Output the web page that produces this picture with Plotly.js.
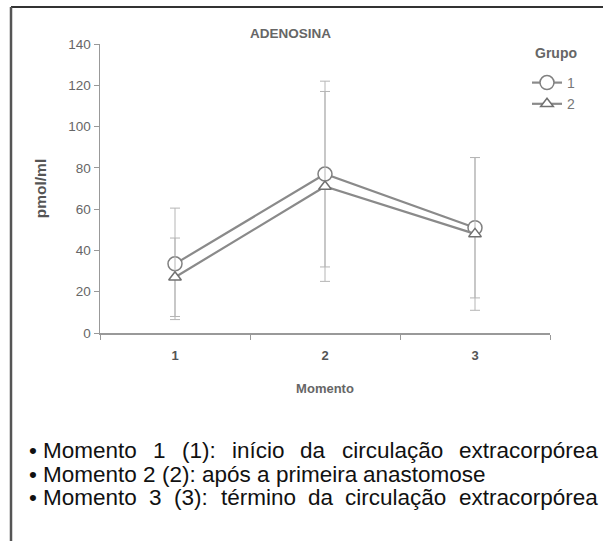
<!DOCTYPE html>
<html>
<head>
<meta charset="utf-8">
<script src="https://cdn.plot.ly/plotly-3.0.1.min.js"></script>
<style>
html,body{margin:0;padding:0;background:#fff;}
#chart{width:603px;height:541px;}
</style>
</head>
<body>
<div id="chart"></div>
<script>
var momento = [1, 2, 3];
var tickLabels = ['1', '2', '3'];
var grupo1 = [33.5, 77, 51];
var grupo1Err = [27, 45, 34];
var grupo2 = [27, 71, 48];
var grupo2Err = [19, 46, 37];
var yTicks = [0, 20, 40, 60, 80, 100, 120, 140];
var notes = [
  '• Momento 1 (1): início da circulação extracorpórea',
  '• Momento 2 (2): após a primeira anastomose',
  '• Momento 3 (3): término da circulação extracorpórea'
];

var F = 'Liberation Sans, Arial, sans-serif';

var traces = [
  {
    x: momento, y: grupo1, name: '1', type: 'scatter', mode: 'lines+markers',
    line: {color: '#8a8a8a', width: 2.2},
    marker: {symbol: 'circle', size: 14, color: '#ffffff', line: {color: '#808080', width: 1.5}},
    error_y: {type: 'data', array: grupo1Err, visible: true, color: '#b5b5b5', thickness: 1, width: 5}
  },
  {
    x: momento, y: grupo2, name: '2', type: 'scatter', mode: 'lines+markers',
    line: {color: '#8a8a8a', width: 2.2},
    marker: {symbol: 'triangle-up', size: 11, color: '#ffffff', line: {color: '#707070', width: 1.5}},
    error_y: {type: 'data', array: grupo2Err, visible: true, color: '#b5b5b5', thickness: 1, width: 5}
  }
];

// page-pixel helpers (plot area: x 100..550, y 44..333)
function px(x) { return (x - 100) / 450; }
function py(y) { return (333 - y) / 289; }

var annotations = [
  {text: '<b>ADENOSINA</b>', xref: 'paper', yref: 'paper', x: px(290), y: py(33),
   xanchor: 'center', yanchor: 'middle', showarrow: false, font: {family: F, size: 13.5, color: '#666'}},
  {text: '<b>Grupo</b>', xref: 'paper', yref: 'paper', x: px(533), y: py(53),
   xanchor: 'left', yanchor: 'middle', showarrow: false, font: {family: F, size: 14, color: '#666'}}
];

// note lines: lines 1 and 3 justified to the right edge, line 2 left as is
var noteSize = 22.5;
var lineY = [450, 474, 497];
var lineStart = 28;
var justify = [true, false, true];
var lineEnd = 597;
var ctx = document.createElement('canvas').getContext('2d');
ctx.font = noteSize + 'px "Liberation Sans"';
var spaceW = ctx.measureText(' ').width;
for (var i = 0; i < notes.length; i++) {
  var words = notes[i].split(' ');
  var bullet = words.shift();
  var bulletW = ctx.measureText(bullet).width;
  annotations.push({text: bullet, xref: 'paper', yref: 'paper', x: px(lineStart), y: py(lineY[i]),
    xanchor: 'left', yanchor: 'middle', showarrow: false, borderpad: 0,
    font: {family: F, size: noteSize, color: '#111'}});
  var start = lineStart + bulletW + spaceW;
  var widths = words.map(function (w) { return ctx.measureText(w).width; });
  var total = widths.reduce(function (a, b) { return a + b; }, 0);
  var gap = justify[i] ? (lineEnd - start - total) / (words.length - 1) : spaceW;
  var cx = start;
  for (var j = 0; j < words.length; j++) {
    annotations.push({text: words[j], xref: 'paper', yref: 'paper', x: px(cx), y: py(lineY[i]),
      xanchor: 'left', yanchor: 'middle', showarrow: false, borderpad: 0,
      font: {family: F, size: noteSize, color: '#111'}});
    cx += widths[j] + gap;
  }
}

var layout = {
  width: 603, height: 541,
  margin: {l: 100, r: 53, t: 44, b: 208},
  paper_bgcolor: '#fff', plot_bgcolor: '#fff',
  showlegend: true,
  legend: {
    x: px(527), y: py(67), xanchor: 'left', yanchor: 'top',
    font: {family: F, size: 14, color: '#777'},
    bgcolor: 'rgba(0,0,0,0)', tracegroupgap: 0
  },
  xaxis: {
    range: [0.5, 3.5], tickmode: 'array', tickvals: momento, ticktext: tickLabels,
    ticks: '', showgrid: false, zeroline: false, showline: true, linecolor: '#999', linewidth: 1.5,
    tickfont: {family: F, size: 13, color: '#555', weight: 'bold'},
    ticklabelstandoff: 10,
    minor: {tickmode: 'array', tickvals: [0.5, 1.5, 2.5, 3.5], ticks: 'outside', ticklen: 5, tickcolor: '#999', showgrid: false},
    title: {text: '<b>Momento</b>', font: {family: F, size: 13, color: '#666'}, standoff: 22},
    fixedrange: true
  },
  yaxis: {
    range: [0, 140], tickmode: 'array', tickvals: yTicks,
    ticks: 'outside', ticklen: 5, tickcolor: '#999', showgrid: false, zeroline: false,
    showline: true, linecolor: '#999', linewidth: 1.5,
    tickfont: {family: F, size: 13.5, color: '#666'},
    title: {text: '<b>pmol/ml</b>', font: {family: F, size: 15.5, color: '#555'}, standoff: 18},
    fixedrange: true
  },
  annotations: annotations,
  shapes: [
    {type: 'line', xref: 'paper', yref: 'paper', x0: px(11), x1: px(603), y0: py(7), y1: py(7), line: {color: '#333', width: 2}},
    {type: 'line', xref: 'paper', yref: 'paper', x0: px(11), x1: px(11), y0: py(7), y1: py(541), line: {color: '#555', width: 2.5}}
  ]
};

Plotly.newPlot('chart', traces, layout, {displayModeBar: false, staticPlot: true});
</script>
</body>
</html>
